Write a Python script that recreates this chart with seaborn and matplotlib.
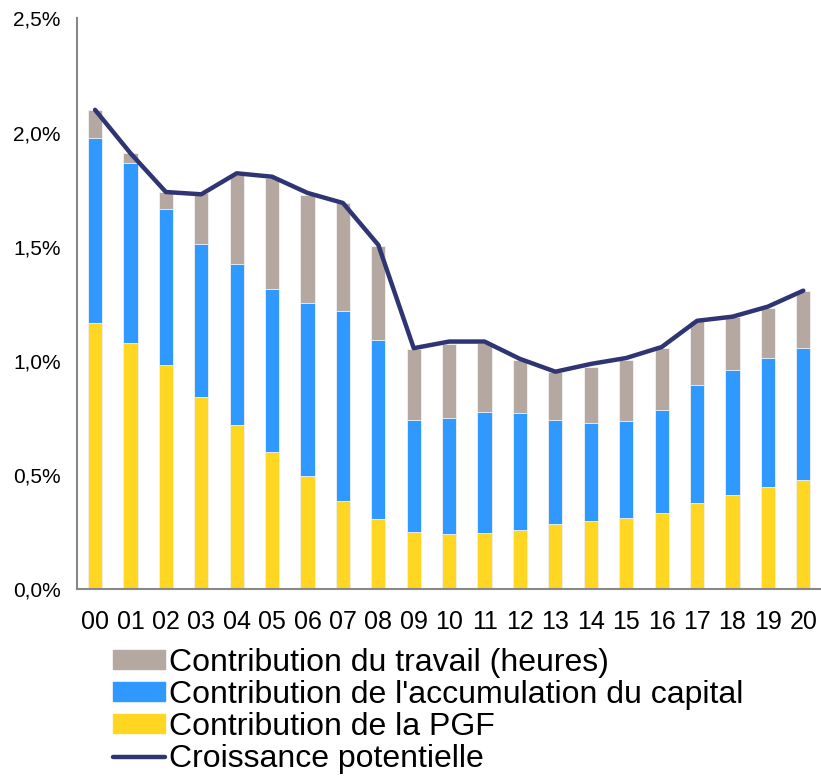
import numpy as np
import seaborn as sns
from matplotlib import pyplot as plt
from matplotlib.patches import Patch
from matplotlib.lines import Line2D
from matplotlib.ticker import FuncFormatter

years = ['00', '01', '02', '03', '04', '05', '06', '07', '08', '09', '10',
         '11', '12', '13', '14', '15', '16', '17', '18', '19', '20']

# Contributions (points de %)
pgf = [1.165, 1.080, 0.981, 0.841, 0.720, 0.600, 0.498, 0.385, 0.307, 0.252, 0.242,
       0.247, 0.261, 0.287, 0.299, 0.314, 0.336, 0.378, 0.413, 0.449, 0.479]
capital = [0.813, 0.786, 0.686, 0.673, 0.706, 0.717, 0.757, 0.835, 0.785, 0.491, 0.510,
           0.531, 0.510, 0.456, 0.431, 0.422, 0.451, 0.516, 0.546, 0.565, 0.579]
travail = [0.121, 0.044, 0.072, 0.222, 0.389, 0.485, 0.472, 0.470, 0.412, 0.309, 0.322,
           0.302, 0.233, 0.207, 0.245, 0.268, 0.270, 0.281, 0.235, 0.218, 0.250]
croissance = [2.10, 1.91, 1.74, 1.73, 1.822, 1.807, 1.736, 1.692, 1.508, 1.056, 1.085,
              1.085, 1.009, 0.953, 0.987, 1.013, 1.061, 1.176, 1.194, 1.238, 1.308]

c_travail = '#B5A8A1'
c_capital = '#3099FF'
c_pgf = '#FFD622'
c_line = '#2E3572'

labels = ["Contribution du travail (heures)",
          "Contribution de l'accumulation du capital",
          "Contribution de la PGF",
          "Croissance potentielle"]

plt.rcParams['font.family'] = ['Liberation Sans', 'DejaVu Sans']

fig = plt.figure(figsize=(8.21, 7.77), dpi=100)
ax = fig.add_axes([0.0942, 0.2416, 0.9058, 0.7346])

pgf = np.array(pgf)
top_capital = pgf + np.array(capital)
top_total = top_capital + np.array(travail)

# stacked bars drawn back to front
for vals, col in [(top_total, c_travail), (top_capital, c_capital), (pgf, c_pgf)]:
    sns.barplot(x=years, y=vals, color=col, saturation=1, width=0.4,
                edgecolor='#f3f3f3', linewidth=0.6, ax=ax)

sns.lineplot(x=np.arange(len(years)), y=croissance, color=c_line, linewidth=3.2,
             solid_capstyle='round', ax=ax)

ax.set_xlim(-0.5, len(years) - 0.5)
ax.set_ylim(0, 2.5)
ax.set_yticks(np.arange(0, 2.51, 0.5))
ax.yaxis.set_major_formatter(FuncFormatter(lambda v, p: f"{v:.1f}%".replace('.', ',')))
ax.set_xlabel('')
ax.set_ylabel('')

for s in ['top', 'right']:
    ax.spines[s].set_visible(False)
for s in ['left', 'bottom']:
    ax.spines[s].set_color('#888888')
    ax.spines[s].set_linewidth(1.5)
ax.tick_params(axis='both', length=0)
ax.tick_params(axis='x', labelsize=18, pad=15)
ax.tick_params(axis='y', labelsize=15, pad=12)

handles = [Patch(color=c_travail), Patch(color=c_capital), Patch(color=c_pgf),
           Line2D([0], [0], color=c_line, linewidth=3.2, solid_capstyle='round')]
fig.legend(handles, labels, loc='lower left', bbox_to_anchor=(0.1216, -0.013),
           frameon=False, fontsize=23, handlelength=1.65, handleheight=0.55,
           handletextpad=0.1, labelspacing=0.07, borderaxespad=0)

fig.savefig('out.png', dpi=100)
